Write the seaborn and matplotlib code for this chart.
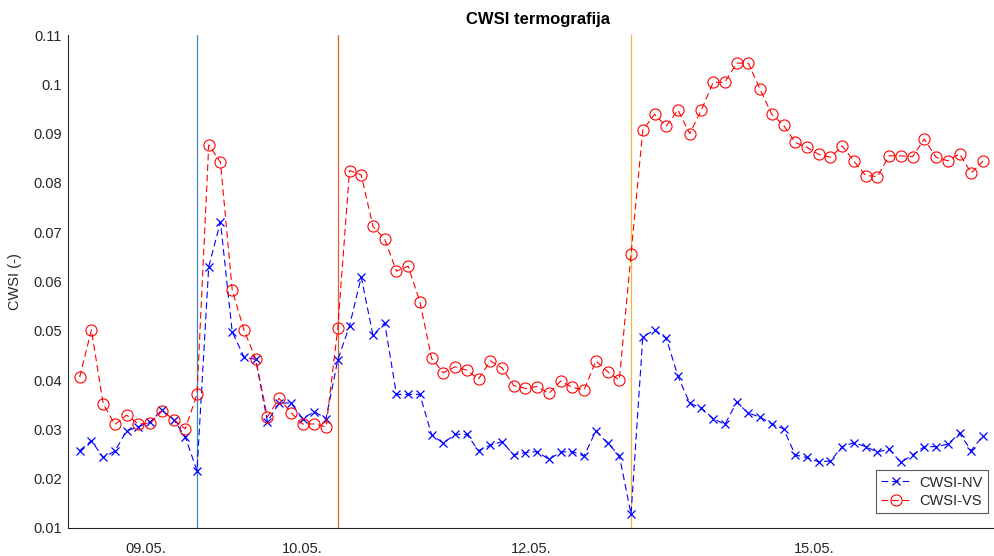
import numpy as np
import pandas as pd
import seaborn as sns
import matplotlib.pyplot as plt

# CWSI values, one per measurement (index 1..78)
cwsi_nv = [0.0257, 0.0277, 0.0243, 0.0256, 0.0297, 0.0305, 0.0315, 0.0339, 0.0320, 0.0285,
           0.0216, 0.0630, 0.0721, 0.0498, 0.0447, 0.0442, 0.0316, 0.0353, 0.0354, 0.0322,
           0.0336, 0.0322, 0.0441, 0.0510, 0.0609, 0.0491, 0.0516, 0.0371, 0.0371, 0.0371,
           0.0289, 0.0272, 0.0290, 0.0290, 0.0257, 0.0268, 0.0275, 0.0248, 0.0253, 0.0255,
           0.0239, 0.0254, 0.0255, 0.0246, 0.0297, 0.0272, 0.0247, 0.0128, 0.0487, 0.0502,
           0.0485, 0.0408, 0.0353, 0.0343, 0.0322, 0.0310, 0.0355, 0.0333, 0.0325, 0.0311,
           0.0301, 0.0248, 0.0243, 0.0234, 0.0236, 0.0265, 0.0273, 0.0265, 0.0254, 0.0260,
           0.0233, 0.0248, 0.0265, 0.0265, 0.0270, 0.0292, 0.0257, 0.0287]
cwsi_vs = [0.0406, 0.0502, 0.0352, 0.0310, 0.0329, 0.0311, 0.0312, 0.0338, 0.0320, 0.0301,
           0.0371, 0.0877, 0.0842, 0.0583, 0.0502, 0.0443, 0.0325, 0.0363, 0.0334, 0.0311,
           0.0311, 0.0305, 0.0505, 0.0825, 0.0816, 0.0712, 0.0686, 0.0621, 0.0631, 0.0559,
           0.0444, 0.0415, 0.0427, 0.0420, 0.0402, 0.0439, 0.0425, 0.0389, 0.0383, 0.0387,
           0.0373, 0.0398, 0.0385, 0.0380, 0.0439, 0.0417, 0.0400, 0.0656, 0.0907, 0.0939,
           0.0915, 0.0948, 0.0900, 0.0948, 0.1004, 0.1004, 0.1043, 0.1043, 0.0990, 0.0939,
           0.0917, 0.0882, 0.0872, 0.0858, 0.0852, 0.0875, 0.0844, 0.0815, 0.0813, 0.0855,
           0.0855, 0.0853, 0.0889, 0.0852, 0.0845, 0.0859, 0.0820, 0.0844]

# event markers (measurement index) and date labels
events = [11, 23, 48]
event_colors = ['#3d86c6', '#e0602a', '#f0b83a']
date_pos = [6.6, 20, 39.5, 63.6]
date_labels = ['09.05.', '10.05.', '12.05.', '15.05.']

df = pd.DataFrame({'idx': np.arange(1, len(cwsi_nv) + 1), 'NV': cwsi_nv, 'VS': cwsi_vs})

sns.set_style('white')
plt.rcParams['font.family'] = ['Liberation Sans', 'DejaVu Sans']
axis_grey = '#262626'
dash = (0, (6, 3.5))

fig = plt.figure(figsize=(9.95, 5.56), dpi=100)
ax = fig.add_axes([0.0683, 0.0504, 0.9314, 0.8866])

for xv, c in zip(events, event_colors):
    ax.axvline(xv, color=c, lw=0.9, zorder=1)

sns.lineplot(data=df, x='idx', y='NV', ax=ax, color='blue', linestyle=dash, lw=0.8,
             marker='x', markersize=6, markeredgewidth=0.9, markeredgecolor='blue',
             label='CWSI-NV', zorder=3)
sns.lineplot(data=df, x='idx', y='VS', ax=ax, color='red', linestyle=dash, lw=0.8,
             marker='o', markersize=8, markerfacecolor='none', markeredgecolor='red',
             markeredgewidth=0.8, label='CWSI-VS', zorder=3)

ax.set_xlim(0, 79)
ax.set_ylim(0.01, 0.11)
ax.set_yticks(np.arange(0.01, 0.111, 0.01))
ax.set_yticklabels(['0.01', '0.02', '0.03', '0.04', '0.05', '0.06', '0.07', '0.08', '0.09', '0.1', '0.11'])

ax.set_xticks(date_pos)
ax.set_xticklabels(date_labels)
ax.set_xticks(np.arange(10, 80, 10), minor=True)
ax.tick_params(axis='x', which='major', length=0, pad=10, labelsize=10.5, colors=axis_grey)
ax.tick_params(axis='x', which='minor', direction='in', length=5, width=0.8, color=axis_grey)
ax.tick_params(axis='y', direction='in', length=5, width=0.8, labelsize=10.5, colors=axis_grey, pad=4.5)

for s in ['top', 'right']:
    ax.spines[s].set_visible(False)
for s in ['left', 'bottom']:
    ax.spines[s].set_color(axis_grey)
    ax.spines[s].set_linewidth(0.8)

ax.set_xlabel('')
ax.set_ylabel('CWSI (-)', fontsize=10.5, color=axis_grey, labelpad=8)
ax.set_title('CWSI termografija', fontsize=12, fontweight='bold', color='black', pad=8,
             x=0.507)

leg = ax.legend(loc='lower right', bbox_to_anchor=(0.9925, 0.0304), borderaxespad=0,
                fontsize=10.5, frameon=True, fancybox=False, edgecolor='#5a5a5a',
                framealpha=1, handlelength=2.0, borderpad=0.35, labelspacing=0.3,
                handletextpad=0.6)
leg.get_frame().set_linewidth(0.8)

fig.savefig('out.png', dpi=100)
